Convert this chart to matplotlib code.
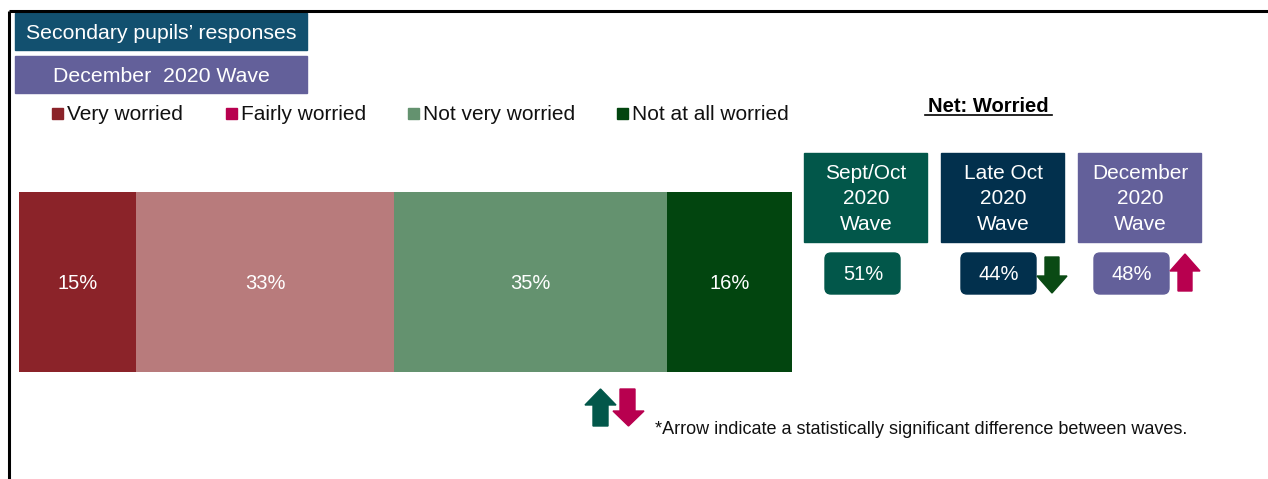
import matplotlib.pyplot as plt
from matplotlib.patches import Rectangle, FancyBboxPatch, Polygon

plt.rcParams["font.family"] = ["Liberation Sans", "DejaVu Sans"]

# stacked bar: December 2020 wave, secondary pupils
categories = ["Very worried", "Fairly worried", "Not very worried", "Not at all worried"]
values = [15, 33, 35, 16]
bar_colors = ["#8B2329", "#B87B7C", "#64926F", "#02450F"]
legend_colors = ["#8B2329", "#B8004F", "#64926F", "#02450F"]

# net worried by wave
waves = ["Sept/Oct\n2020\nWave", "Late Oct\n2020\nWave", "December\n2020\nWave"]
net_worried = [51, 44, 48]
net_change = [None, "down", "up"]
wave_colors = ["#02574A", "#02304D", "#63609A"]

W, H = 1268, 479
fig = plt.figure(figsize=(W / 100, H / 100), dpi=100)

# overlay axes in pixel units for boxes and text
ov = fig.add_axes([0, 0, 1, 1])
ov.set_xlim(0, W)
ov.set_ylim(H, 0)
ov.axis("off")

# frame lines
ov.plot([9, W], [11, 11], color="black", lw=2.2, solid_capstyle="butt")
ov.plot([9, 9], [11, H], color="black", lw=2.2, solid_capstyle="butt")

# header boxes
ov.add_patch(Rectangle((15, 13), 292, 37, color="#12506F"))
ov.text(161, 33, "Secondary pupils\u2019 responses", color="white", fontsize=15.3,
        ha="center", va="center")
ov.add_patch(Rectangle((15, 56), 292, 37, color="#63609A"))
ov.text(161, 76, "December  2020 Wave", color="white", fontsize=15.3,
        ha="center", va="center")

# legend
leg_x = [52, 226, 408, 617]
for x, lab, c in zip(leg_x, categories, legend_colors):
    ov.add_patch(Rectangle((x, 108), 11, 11, color=c))
    ov.text(x + 15, 114.5, lab, fontsize=15, ha="left", va="center", color="#111111")

# bar axes
ax = fig.add_axes([19 / W, (H - 372) / H, 773 / W, 180 / H])
left = 0
for v, c in zip(values, bar_colors):
    ax.barh(0, v, left=left, height=1, color=c)
    ax.text(left + v / 2, -0.01, f"{v}%", color="white", fontsize=14.5,
            ha="center", va="center")
    left += v
ax.set_xlim(0, sum(values))
ax.set_ylim(-0.5, 0.5)
ax.axis("off")

# net worried panel
ov.text(988, 106, "Net: Worried", fontsize=14.5, fontweight="bold",
        ha="center", va="center")
ov.plot([925, 1052], [115, 115], color="black", lw=1.2)

box_x = [804, 941, 1078]
for i, (x, lab, val, chg, c) in enumerate(zip(box_x, waves, net_worried, net_change, wave_colors)):
    ov.add_patch(Rectangle((x, 153), 123, 89, color=c))
    ov.text(x + 62, 199, lab, color="white", fontsize=15, ha="center",
            va="center", linespacing=1.45)
    bx = x + 20 + (i == 0) * 1 - (i == 2) * 4
    ov.add_patch(FancyBboxPatch((bx + 3, 256), 69, 35,
                                boxstyle="round,pad=3,rounding_size=6",
                                color=c))
    ov.text(bx + 38, 274, f"{val}%", color="white", fontsize=14.5,
            ha="center", va="center")
    ax_x = bx + 76
    if chg == "down":
        ov.add_patch(Polygon([(ax_x + 8, 257), (ax_x + 22, 257), (ax_x + 22, 276),
                              (ax_x + 30, 276), (ax_x + 15, 293), (ax_x, 276),
                              (ax_x + 8, 276)], color="#0A4A14"))
    elif chg == "up":
        ov.add_patch(Polygon([(ax_x + 8, 291), (ax_x + 22, 291), (ax_x + 22, 271),
                              (ax_x + 30, 271), (ax_x + 15, 254), (ax_x, 271),
                              (ax_x + 8, 271)], color="#B8004F"))

# key arrows and footnote
ov.add_patch(Polygon([(593, 426), (608, 426), (608, 405), (616, 405), (600.5, 389),
                      (585, 405), (593, 405)], color="#02574A"))
ov.add_patch(Polygon([(620, 389), (635, 389), (635, 411), (644, 411), (628.5, 426),
                      (613, 411), (620, 411)], color="#B8004F"))
ov.text(655, 429, "*Arrow indicate a statistically significant difference between waves.",
        fontsize=13, ha="left", va="center", color="#111111")

fig.savefig("out.png", dpi=100)
